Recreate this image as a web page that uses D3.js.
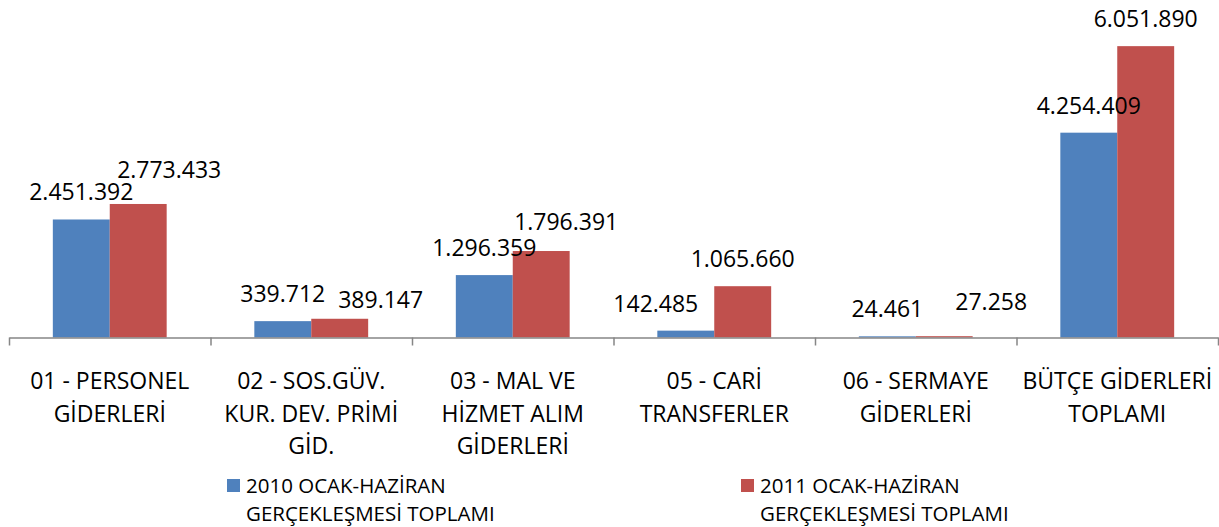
<!DOCTYPE html>
<html>
<head>
<meta charset="utf-8">
<script src="https://cdn.jsdelivr.net/npm/d3@7"></script>
<style>
  body { margin: 0; background: #fff; }
  text { font-family: "Open Sans", sans-serif; fill: #000; }
</style>
</head>
<body>
<div id="chart"></div>
<script>
// categories (one entry per line of the wrapped tick label)
var categories = [
    ["01 - PERSONEL", "GİDERLERİ"],
    ["02 - SOS.GÜV.", "KUR. DEV. PRİMİ", "GİD."],
    ["03 - MAL VE", "HİZMET ALIM", "GİDERLERİ"],
    ["05 - CARİ", "TRANSFERLER"],
    ["06 - SERMAYE", "GİDERLERİ"],
    ["BÜTÇE GİDERLERİ", "TOPLAMI"]
];
var seriesNames = [
    ["2010 OCAK-HAZİRAN", "GERÇEKLEŞMESİ TOPLAMI"],
    ["2011 OCAK-HAZİRAN", "GERÇEKLEŞMESİ TOPLAMI"]
];
var values2010 = [2451392, 339712, 1296359, 142485, 24461, 4254409];
var values2011 = [2773433, 389147, 1796391, 1065660, 27258, 6051890];
var colors = ["#4F81BD", "#C0504D"];

var width = 1219, height = 527;

var svg = d3.select("#chart").append("svg")
    .attr("width", width)
    .attr("height", height);

var idx = d3.range(categories.length);
var x0 = d3.scaleBand().domain(idx).range([9, 1218]).padding(0);
var x1 = d3.scaleBand().domain([0, 1]).range([0, x0.bandwidth()])
    .paddingInner(0).paddingOuter(0.77);
var y = d3.scaleLinear().domain([0, 7000000]).range([337.5, 0.5]);

var fmt = function (v) { return d3.format(",")(v).replace(/,/g, "."); };

var rows = idx.map(function (i) {
    return { i: i, vals: [values2010[i], values2011[i]] };
});

// bars
var groups = svg.append("g").selectAll("g")
    .data(rows).enter()
    .append("g")
    .attr("transform", function (d) { return "translate(" + x0(d.i) + ",0)"; });

groups.selectAll("rect")
    .data(function (d) { return d.vals.map(function (v, s) { return { s: s, v: v, i: d.i }; }); })
    .enter()
    .append("rect")
    .attr("x", function (d) { return x1(d.s); })
    .attr("y", function (d) { return y(d.v); })
    .attr("width", x1.bandwidth())
    .attr("height", function (d) { return y(0) - y(d.v); })
    .attr("fill", function (d) { return colors[d.s]; });

// data labels - some were dragged aside in the original, nudge those
var nudge = {
    "0-1": [31, -7], "1-1": [41, 8], "2-1": [25, -2],
    "3-0": [-30, 0], "4-1": [47, -7]
};
groups.selectAll("text.val")
    .data(function (d) { return d.vals.map(function (v, s) { return { s: s, v: v, i: d.i }; }); })
    .enter()
    .append("text")
    .attr("class", "val")
    .attr("text-anchor", "middle")
    .attr("font-size", "23px")
    .attr("x", function (d) {
        var n = nudge[d.i + "-" + d.s] || [0, 0];
        return x1(d.s) + x1.bandwidth() / 2 + n[0];
    })
    .attr("y", function (d) {
        var n = nudge[d.i + "-" + d.s] || [0, 0];
        return y(d.v) - 19 + n[1];
    })
    .text(function (d) { return fmt(d.v); });

// x axis: tick marks at category boundaries
var xEdge = d3.scaleLinear().domain([0, categories.length]).range([9, 1218]);
var axis = svg.append("g")
    .attr("transform", "translate(0," + y(0) + ")")
    .call(d3.axisBottom(xEdge).tickValues(d3.range(categories.length + 1))
        .tickSize(8).tickSizeOuter(0).tickFormat(""));
axis.selectAll("path, line").attr("stroke", "#868686").attr("stroke-width", 1.5);

// category labels
svg.append("g").selectAll("text")
    .data(idx).enter()
    .append("text")
    .attr("text-anchor", "middle")
    .attr("font-size", "23px")
    .attr("transform", function (i) { return "translate(" + (x0(i) + x0.bandwidth() / 2) + ",389)"; })
    .selectAll("tspan")
    .data(function (i) { return categories[i]; })
    .enter()
    .append("tspan")
    .attr("x", 0)
    .attr("y", function (d, k) { return k * 32.5; })
    .text(function (d) { return d; });

// legend
var legendX = [227, 741];
var legend = svg.append("g").selectAll("g")
    .data(seriesNames).enter()
    .append("g")
    .attr("transform", function (d, s) { return "translate(" + legendX[s] + ",0)"; });
legend.append("rect")
    .attr("x", 0).attr("y", 479)
    .attr("width", 13).attr("height", 13)
    .attr("fill", function (d, s) { return colors[s]; });
legend.append("text")
    .attr("font-size", "20.5px")
    .selectAll("tspan")
    .data(function (d) { return d; })
    .enter()
    .append("tspan")
    .attr("x", 19)
    .attr("y", function (d, k) { return 493 + k * 28; })
    .text(function (d) { return d; });
</script>
</body>
</html>
